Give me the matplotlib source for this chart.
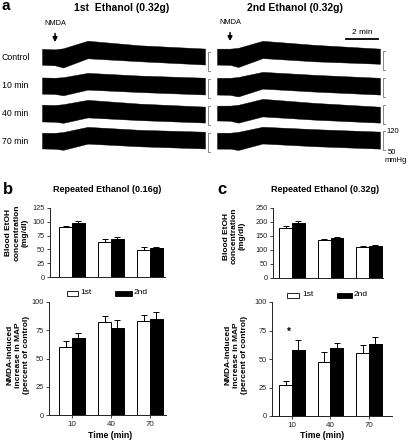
import matplotlib
matplotlib.use('Agg')
import matplotlib.pyplot as plt
from matplotlib.patches import Rectangle

plt.rcParams['font.family'] = ['Liberation Sans', 'DejaVu Sans']

W, H = 412, 442

# ---------------- data ----------------
# (a) blood pressure traces: envelope (systolic / diastolic) in mmHg at key times (min)
trace_times = [0, 0.8, 1.3, 2.8, 6.0, 10.0]
row_labels = ['Control', '10 min', '40 min', '70 min']
first_upper = [[132, 130, 134, 162, 145, 133],
               [126, 125, 127, 143, 133, 125],
               [125, 124, 127, 143, 129, 118],
               [121, 121, 124, 143, 132, 125]]
first_lower = [[73, 71, 63, 97, 86, 74],
               [66, 65, 60, 81, 72, 63],
               [63, 62, 58, 78, 68, 59],
               [63, 62, 58, 81, 71, 63]]
second_upper = [[129, 129, 132, 158, 143, 129],
                [121, 121, 124, 143, 132, 121],
                [118, 118, 121, 143, 128, 114],
                [114, 114, 117, 136, 127, 118]]
second_lower = [[70, 69, 61, 94, 82, 73],
                [59, 58, 52, 81, 70, 59],
                [63, 62, 55, 78, 66, 55],
                [55, 55, 50, 74, 64, 55]]
nmda_time = 0.8
scale_minutes = 2
scale_mmhg = [50, 120]

# (b) and (c) bar charts
time_labels = ['10', '40', '70']
b_etoh_1st = [90, 63, 49]
b_etoh_1st_err = [2, 6, 6]
b_etoh_2nd = [97, 69, 52]
b_etoh_2nd_err = [4, 4, 3]
b_map_1st = [60, 82, 83]
b_map_1st_err = [5.5, 5.5, 5.5]
b_map_2nd = [68, 77, 85]
b_map_2nd_err = [5, 7.5, 6]

c_etoh_1st = [180, 135, 110]
c_etoh_1st_err = [4, 4, 3]
c_etoh_2nd = [198, 143, 113]
c_etoh_2nd_err = [4, 3, 4]
c_map_1st = [27, 47, 55]
c_map_1st_err = [4, 9, 7.5]
c_map_2nd = [58, 60, 63]
c_map_2nd_err = [9, 4, 6]

# ---------------- figure ----------------
fig = plt.figure(figsize=(W / 100, H / 100), dpi=100)
fig.patch.set_facecolor('white')


def px_axes(x0, y0, x1, y1):
    return fig.add_axes([x0 / W, 1 - y1 / H, (x1 - x0) / W, (y1 - y0) / H])


def ftext(x, y, s, **kw):
    kw.setdefault('va', 'center')
    return fig.text(x / W, 1 - y / H, s, **kw)


S = 3.7  # mmHg per pixel
left_brackets = [71, 98, 125, 152]
right_brackets = [70, 97, 124, 150]
row_y = [57, 85, 113, 141]

trace_axes = {}
for col, (x0, x1, brk, up, lo) in enumerate([(42, 205, left_brackets, first_upper, first_lower),
                                              (217, 380, right_brackets, second_upper, second_lower)]):
    for i in range(4):
        b = brk[i]
        ax = px_axes(x0, b - 32, x1, b + 10)
        ax.set_xlim(0, 10)
        ax.set_ylim(50 - 10 * S, 50 + 32 * S)
        ax.axis('off')
        ax.patch.set_alpha(0)
        ax.fill_between(trace_times, lo[i], up[i], color='black', lw=0.3, edgecolor='black')
        # scale bracket
        ax.plot([10.33, 10.18, 10.18, 10.33], [scale_mmhg[1], scale_mmhg[1], scale_mmhg[0], scale_mmhg[0]],
                color='#888888', lw=0.7, clip_on=False)
        trace_axes[(col, i)] = ax

# NMDA arrows
for col in (0, 1):
    ax = trace_axes[(col, 0)]
    ax.annotate('NMDA', xy=(nmda_time, 157), xytext=(0, 19), textcoords='offset pixels',
                ha='center', va='center', fontsize=5.3,
                arrowprops=dict(arrowstyle='-|>,head_length=0.5,head_width=0.25', color='black',
                                lw=1.1, shrinkA=3, shrinkB=0))

# 2 min scale bar
ax = trace_axes[(1, 0)]
ax.plot([7.9, 7.9 + scale_minutes], [164.7, 164.7], color='black', lw=1.3, clip_on=False)
ax.text(7.9 + scale_minutes / 2, 164.7 + 6.5 * S, '%d min' % scale_minutes, ha='center', va='center',
        fontsize=6)

# mmHg labels
ax = trace_axes[(1, 3)]
ax.text(10.42, scale_mmhg[1], str(scale_mmhg[1]), fontsize=5.5, va='center', ha='left')
ax.text(10.48, scale_mmhg[0] - 2 * S, str(scale_mmhg[0]), fontsize=5.5, va='center', ha='left')
ax.text(10.25, scale_mmhg[0] - 10 * S, 'mmHg', fontsize=5.5, va='center', ha='left')

# row labels / titles
for lab, y in zip(row_labels, row_y):
    ftext(2, y, lab, fontsize=6.3, ha='left')
ftext(2, 6, 'a', fontsize=11, fontweight='bold', ha='left')
ftext(122, 8, '1st  Ethanol (0.32g)', fontsize=7.5, fontweight='bold', ha='center')
ftext(295, 8, '2nd Ethanol (0.32g)', fontsize=7.5, fontweight='bold', ha='center')


# ---------------- bar charts ----------------
BW = 0.33


def bars(ax, w, we, k, ke, top, step, xlim, xlabels):
    x = range(len(w))
    xw = [i - BW / 2 for i in x]
    xk = [i + BW / 2 for i in x]
    ax.bar(xw, w, width=BW, color='white', edgecolor='black', lw=0.7, zorder=2)
    ax.bar(xk, k, width=BW, color='black', edgecolor='black', lw=0.7, zorder=2)
    ax.errorbar(xw, w, yerr=[[0] * len(w), we], fmt='none', ecolor='black', elinewidth=0.7,
                capsize=2.2, capthick=0.7, zorder=1)
    ax.errorbar(xk, k, yerr=[[0] * len(k), ke], fmt='none', ecolor='black', elinewidth=0.7,
                capsize=2.2, capthick=0.7, zorder=1)
    ax.set_ylim(0, top)
    ax.set_xlim(*xlim)
    ax.set_yticks(range(0, top + 1, step))
    for s in ('top', 'right'):
        ax.spines[s].set_visible(False)
    for s in ('left', 'bottom'):
        ax.spines[s].set_linewidth(0.7)
        ax.spines[s].set_color('#222222')
    ax.tick_params(axis='y', labelsize=5.3, length=2.5, width=0.6, pad=1, colors='#222222')
    ax.patch.set_alpha(0)
    if xlabels:
        ax.set_xticks(list(x))
        ax.set_xticklabels(xlabels)
        ax.tick_params(axis='x', labelsize=5.8, length=2.5, width=0.6, pad=2, colors='#222222')
    else:
        ax.set_xticks([])


ax_b1 = px_axes(50, 208, 165, 277)
bars(ax_b1, b_etoh_1st, b_etoh_1st_err, b_etoh_2nd, b_etoh_2nd_err, 125, 25, (-0.564, 2.385), None)
ax_b2 = px_axes(49, 302, 166, 415)
bars(ax_b2, b_map_1st, b_map_1st_err, b_map_2nd, b_map_2nd_err, 100, 25, (-0.59, 2.41), time_labels)
ax_c1 = px_axes(273, 208, 383, 278)
bars(ax_c1, c_etoh_1st, c_etoh_1st_err, c_etoh_2nd, c_etoh_2nd_err, 250, 50, (-0.494, 2.364), None)
ax_c2 = px_axes(272, 302, 392, 416)
bars(ax_c2, c_map_1st, c_map_1st_err, c_map_2nd, c_map_2nd_err, 100, 25, (-0.52, 2.6), time_labels)
ax_c2.text(-0.08, 74, '*', ha='center', va='center', fontsize=7, fontweight='bold')

# panel texts
ftext(3, 189, 'b', fontsize=12, fontweight='bold', ha='left')
ftext(217, 189, 'c', fontsize=12, fontweight='bold', ha='left')
ftext(107, 189, 'Repeated Ethanol (0.16g)', fontsize=6.5, fontweight='bold', ha='center')
ftext(325, 189, 'Repeated Ethanol (0.32g)', fontsize=6.5, fontweight='bold', ha='center')

etoh_lab = 'Blood EtOH\nconcentration\n(mg/dl)'
map_lab = 'NMDA-induced\nincrease in MAP\n(percent of control)'
for x, y, s in [(17, 233, etoh_lab), (18, 355, map_lab), (234, 236, etoh_lab), (236, 355, map_lab)]:
    ftext(x, y, s, fontsize=6, fontweight='bold', rotation=90, ha='center', multialignment='center',
          linespacing=1.2)
ftext(110, 435, 'Time (min)', fontsize=6.3, fontweight='bold', ha='center')
ftext(322, 436, 'Time (min)', fontsize=6.3, fontweight='bold', ha='center')

# legends
ov = fig.add_axes([0, 0, 1, 1])
ov.set_xlim(0, W)
ov.set_ylim(H, 0)
ov.axis('off')
ov.patch.set_alpha(0)
for (wx0, wx1, tx1, kx0, kx1, tx2, y) in [(67, 78, 80, 115, 132, 134, 293), (287, 299, 302, 337, 352, 354, 295)]:
    ov.add_patch(Rectangle((wx0, y - 2.5), wx1 - wx0, 5, facecolor='white', edgecolor='black', lw=0.6))
    ov.add_patch(Rectangle((kx0, y - 2.5), kx1 - kx0, 5, facecolor='black', edgecolor='black', lw=0.6))
    ov.text(tx1, y, '1st', fontsize=6, va='center', ha='left')
    ov.text(tx2, y, '2nd', fontsize=6, va='center', ha='left')

fig.savefig('out.png', dpi=100, facecolor='white')
